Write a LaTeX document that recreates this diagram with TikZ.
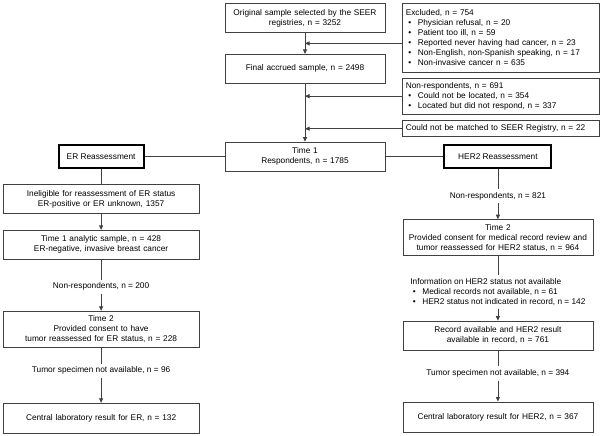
\documentclass[tikz,border=0pt]{standalone}
\usepackage{fontspec}
\setmainfont{Liberation Sans}
\usetikzlibrary{arrows.meta,positioning,calc}
\definecolor{edge}{gray}{0.25}
\newcommand{\fs}{\fontsize{8.3}{10}\selectfont}
\newcommand{\bul}{\hspace*{2.5pt}\makebox[9.5pt][l]{\textbullet}}

\begin{document}
\begin{tikzpicture}[
  x=1pt, y=1pt,
  box/.style={draw=edge, line width=0.8pt, align=center, font=\fs,
              inner xsep=3pt, inner ysep=4.5pt, minimum height=29pt},
  side/.style={draw=edge, line width=0.8pt, align=left, font=\fs,
              inner xsep=3pt, inner ysep=4pt, text width=191pt},
  head/.style={draw=black, line width=2pt, font=\fs, minimum height=23pt},
  lab/.style={font=\fs, align=center, inner sep=3pt},
  arr/.style={draw=edge, line width=0.8pt, -{Triangle[length=4.5pt,width=4pt]}},
  lin/.style={draw=edge, line width=0.8pt}
]
\useasboundingbox (0,0) rectangle (602,-436);
% main trunk
\node[box, text width=154pt] (orig) at (305,-18)
  {Original sample selected by the SEER\\registries, n = 3252};
\node[side, minimum height=69pt, right=17pt of orig.north east, anchor=north west] (excl)
  {Excluded, n = 754\\
   \bul Physician refusal, n = 20\\
   \bul Patient too ill, n = 59\\
   \bul Reported never having had cancer, n = 23\\
   \bul Non-English, non-Spanish speaking, n = 17\\
   \bul Non-invasive cancer n = 635};
\node[box, text width=154pt, below=21pt of orig] (final) {Final accrued sample, n = 2498};
\node[side, below=5pt of excl.south west, anchor=north west] (nonresp)
  {Non-respondents, n = 691\\
   \bul Could not be located, n = 354\\
   \bul Located but did not respond, n = 337};
\node[side, below=6pt of nonresp.south west, anchor=north west] (nomatch)
  {Could not be matched to SEER Registry, n = 22};
\node[box, text width=154pt, below=58pt of final] (time1) {Time 1\\Respondents, n = 1785};
\node[head, minimum width=85pt, left=80pt of time1] (er) {ER Reassessment};
\node[head, minimum width=107pt, right=58pt of time1] (her) {HER2 Reassessment};
% ER branch
\node[box, text width=190pt, below=15pt of er] (inel)
  {Ineligible for reassessment of ER status\\ER-positive or ER unknown, 1357};
\node[box, text width=190pt, below=16pt of inel] (ana)
  {Time 1 analytic sample, n = 428\\ER-negative, invasive breast cancer};
\node[lab, below=20pt of ana] (nr200) {Non-respondents, n = 200};
\node[box, text width=190pt, below=17pt of nr200] (t2er)
  {Time 2\\Provided consent to have\\tumor reassessed for ER status, n = 228};
\node[lab, below=16pt of t2er] (nospec96) {Tumor specimen not available, n = 96};
\node[box, text width=190pt, minimum height=30pt, below=25pt of nospec96] (cler)
  {Central laboratory result for ER, n = 132};
% HER2 branch
\node[lab, below=20pt of her] (nr821) {Non-respondents, n = 821};
\node[box, text width=184pt, below=16pt of nr821] (t2her)
  {Time 2\\Provided consent for medical record review and\\tumor reassessed for HER2 status, n = 964};
\node[lab, align=left, below=19pt of t2her] (noinfo)
  {Information on HER2 status not available\\
   \bul Medical records not available, n = 61\\
   \bul HER2 status not indicated in record, n = 142};
\node[box, text width=184pt, below=12pt of noinfo] (rec)
  {Record available and HER2 result\\available in record, n = 761};
\node[lab, below=16pt of rec] (nospec394) {Tumor specimen not available, n = 394};
\node[box, text width=184pt, minimum height=30pt, below=21pt of nospec394] (clher)
  {Central laboratory result for HER2, n = 367};
% connectors
\coordinate (gap1) at ($(orig.south)!0.5!(final.north)$);
\draw[arr] (orig) -- (final);
\draw[arr] (final) -- (time1);
\draw[arr] (excl.west |- gap1) -- (gap1);
\draw[arr] (nonresp.west) -- (nonresp.west -| final);
\draw[arr] (nomatch.west) -- (nomatch.west -| final);
\draw[lin] (time1) -- (er);
\draw[lin] (time1) -- (her);
\draw[lin] (er) -- (inel);
\draw[arr] (inel) -- (ana);
\draw[lin] (ana) -- (nr200);
\draw[arr] (nr200) -- (t2er);
\draw[lin] (t2er) -- (nospec96);
\draw[arr] (nospec96) -- (cler);
\draw[lin] (her) -- (nr821);
\draw[arr] (nr821) -- (t2her);
\draw[lin] (t2her) -- (noinfo);
\draw[arr] (noinfo) -- (rec);
\draw[lin] (rec) -- (nospec394);
\draw[arr] (nospec394) -- (clher);
\end{tikzpicture}
\end{document}
